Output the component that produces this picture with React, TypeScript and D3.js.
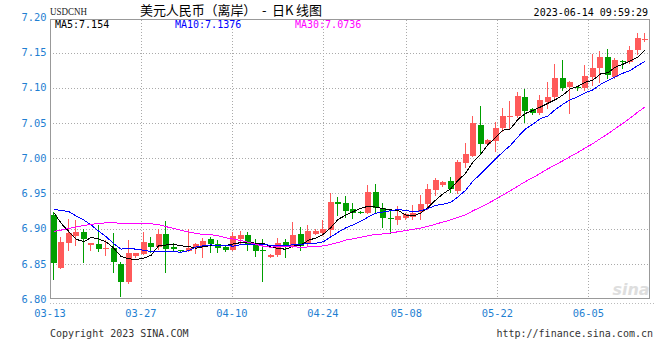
import React from "react";
import * as d3 from "d3";

// ---- data ----
const dates = [
  "03-13","03-14","03-15","03-16","03-17","03-18","03-20","03-21","03-22","03-23",
  "03-24","03-25","03-27","03-28","03-29","03-30","03-31","04-01","04-03","04-04",
  "04-05","04-06","04-07","04-08","04-10","04-11","04-12","04-13","04-14","04-15",
  "04-17","04-18","04-19","04-20","04-21","04-22","04-24","04-25","04-26","04-27",
  "04-28","04-29","05-02","05-03","05-04","05-05","05-06","05-08","05-09","05-10",
  "05-11","05-12","05-13","05-15","05-16","05-17","05-18","05-19","05-20","05-22",
  "05-23","05-24","05-25","05-26","05-27","05-29","05-30","05-31","06-01","06-02",
  "06-03","06-05","06-06","06-07","06-08","06-09","06-10","06-12","06-13","06-14",
];

const opens = [
  6.919, 6.8445, 6.880, 6.890, 6.8956, 6.877, 6.878, 6.872, 6.872, 6.850,
  6.8246, 6.861, 6.864, 6.880, 6.8743, 6.8923, 6.8734, 6.8695, 6.8686, 6.872,
  6.875, 6.8848, 6.878, 6.8734, 6.8696, 6.8852, 6.8909, 6.8767, 6.8696, 6.860,
  6.8625, 6.8814, 6.8743, 6.8923, 6.878, 6.8923, 6.894, 6.898, 6.9374, 6.9368,
  6.928, 6.9235, 6.9226, 6.9524, 6.9288, 6.9146, 6.9122, 6.9146, 6.916, 6.9236,
  6.935, 6.9548, 6.962, 6.9676, 6.9527, 6.9936, 7.003, 7.047, 7.0195, 7.0244,
  7.043, 7.059, 7.0595, 7.087, 7.0703, 7.0642, 7.0798, 7.087, 7.114, 7.1011,
  7.1015, 7.099, 7.1153, 7.1274, 7.1442, 7.1153, 7.138, 7.136, 7.153, 7.1685,
];
const highs = [
  6.924, 6.8876, 6.914, 6.912, 6.8994, 6.880, 6.905, 6.884, 6.894, 6.852,
  6.884, 6.866, 6.8956, 6.8885, 6.899, 6.911, 6.879, 6.870, 6.899, 6.880,
  6.887, 6.8885, 6.8838, 6.8767, 6.8956, 6.897, 6.895, 6.8848, 6.8848, 6.864,
  6.8866, 6.8848, 6.910, 6.9018, 6.905, 6.899, 6.912, 6.951, 6.9453, 6.946,
  6.937, 6.925, 6.962, 6.9634, 6.936, 6.928, 6.932, 6.922, 6.9335, 6.9477,
  6.9638, 6.9714, 6.967, 6.9737, 6.998, 7.0216, 7.060, 7.074, 7.027, 7.052,
  7.0713, 7.0808, 7.0945, 7.0983, 7.071, 7.090, 7.1078, 7.1338, 7.140, 7.109,
  7.103, 7.1324, 7.148, 7.1523, 7.1547, 7.1423, 7.140, 7.1594, 7.178, 7.178,
];
const lows = [
  6.829, 6.844, 6.870, 6.8767, 6.853, 6.870, 6.8686, 6.8625, 6.839, 6.804,
  6.8227, 6.860, 6.864, 6.867, 6.8706, 6.839, 6.8686, 6.868, 6.868, 6.866,
  6.859, 6.867, 6.867, 6.868, 6.869, 6.879, 6.8696, 6.8615, 6.826, 6.860,
  6.861, 6.860, 6.874, 6.8696, 6.877, 6.892, 6.891, 6.891, 6.919, 6.917,
  6.9146, 6.922, 6.922, 6.9226, 6.9027, 6.894, 6.9065, 6.913, 6.9132, 6.9136,
  6.9274, 6.9477, 6.961, 6.9516, 6.9506, 6.988, 7.003, 7.008, 7.019, 7.0107,
  7.0382, 7.0425, 7.058, 7.0514, 7.062, 7.063, 7.0713, 7.083, 7.0973, 7.0638,
  7.0973, 7.097, 7.1044, 7.1087, 7.1135, 7.114, 7.128, 7.135, 7.148, 7.1658,
];
const closes = [
  6.8507, 6.881, 6.894, 6.8956, 6.8857, 6.880, 6.871, 6.8725, 6.853, 6.8246,
  6.865, 6.865, 6.8814, 6.8743, 6.8923, 6.8706, 6.8706, 6.869, 6.872, 6.878,
  6.882, 6.878, 6.8724, 6.8696, 6.8895, 6.8909, 6.878, 6.8686, 6.869, 6.8625,
  6.880, 6.8734, 6.891, 6.8753, 6.8966, 6.897, 6.8994, 6.938, 6.935, 6.9254,
  6.9226, 6.923, 6.9524, 6.9288, 6.9146, 6.9142, 6.9183, 6.9207, 6.9217, 6.935,
  6.9558, 6.969, 6.9662, 6.956, 6.995, 7.006, 7.050, 7.020, 7.026, 7.0425,
  7.0595, 7.0597, 7.088, 7.0675, 7.0642, 7.083, 7.087, 7.114, 7.0997, 7.1082,
  7.1005, 7.1168, 7.128, 7.1438, 7.118, 7.1395, 7.1365, 7.1537, 7.170, 7.169,
];
// closes before the visible window (estimated from the starting MA lines)
const priorCloses = [
  6.822, 6.827, 6.829, 6.823, 6.831, 6.836, 6.842, 6.848, 6.855, 6.862,
  6.870, 6.876, 6.897, 6.921, 6.962, 6.950, 6.946, 6.942, 6.938, 6.931,
  6.891, 6.913, 6.957, 6.943, 6.951, 6.959, 6.951, 6.951, 6.903,
];

const yTicks = [6.80, 6.85, 6.90, 6.95, 7.00, 7.05, 7.10, 7.15, 7.20];
const xTickDates = ["03-13", "03-27", "04-10", "04-24", "05-08", "05-22", "06-05"];
const maPeriods = [5, 10, 30];
const maLabels = ["MA5:7.154", "MA10:7.1376", "MA30:7.0736"];
const maColors = ["#000000", "#0000ff", "#ff00ff"];
const titleText = "美元人民币（离岸）  -  日K 线图";
const symbolText = "USDCNH";
const timeText = "2023-06-14 09:59:29";

const UP = "#ff5a5a";
const DOWN = "#009f00";
const AXIS_BLUE = "#1f7fd2";
const MONO = "'DejaVu Sans Mono', monospace";

export default function App() {
  const L = 50, R = 649, T = 19.5, B = 298.5;
  const x = d3.scaleBand<string>().domain(dates).range([L, R]).paddingInner(0.2).paddingOuter(0.1);
  const xp = d3.scalePoint<string>().domain(dates).range([L, R]);
  const y = d3.scaleLinear().domain([6.8, 7.2]).range([299, 17.3]);
  const cx = (i: number) => (x(dates[i]) as number) + x.bandwidth() / 2;

  const full = [...priorCloses, ...closes];
  const off = priorCloses.length;
  const ma = (n: number) =>
    closes.map((_, i) => d3.mean(full.slice(off + i - n + 1, off + i + 1)) as number);
  const line = d3.line<number>().x((_, i) => cx(i)).y((v) => y(v));

  return (
    <svg width={660} height={360} style={{ position: "absolute", left: 0, top: 0, background: "#fff" }}>
      <rect x={0} y={0} width={660} height={360} fill="#fff" />
      {/* watermark */}
      <text x={631} y={295} textAnchor="middle" fontFamily="'DejaVu Sans', sans-serif" fontStyle="italic"
        fontWeight="bold" fontSize={16} fill="#dedede">sina</text>
      {/* horizontal grid */}
      {yTicks.filter((v) => v > 6.81 && v < 7.19).map((v) => (
        <line key={"h" + v} x1={L} x2={R} y1={Math.round(y(v)) + 0.5} y2={Math.round(y(v)) + 0.5}
          stroke="#aaa" strokeDasharray="1 2" shapeRendering="crispEdges" />
      ))}
      {/* vertical grid */}
      {xTickDates.slice(1).map((d) => (
        <line key={"v" + d} x1={Math.round(xp(d) as number) + 0.5} x2={Math.round(xp(d) as number) + 0.5}
          y1={T} y2={B} stroke="#aaa" strokeDasharray="1 2" shapeRendering="crispEdges" />
      ))}
      {/* dotted line below axis */}
      <line x1={L} x2={655} y1={303.5} y2={303.5} stroke="#bbb" strokeDasharray="1 2" shapeRendering="crispEdges" />
      {/* frame */}
      <rect x={L + 0.5} y={T} width={R - L} height={B - T} fill="none" stroke="#999" shapeRendering="crispEdges" />

      {/* candles */}
      {closes.map((c, i) => {
        const o = opens[i];
        const up = c >= o;
        const col = up ? UP : DOWN;
        const bx = Math.round(cx(i) - 3);
        const top = Math.round(y(Math.max(o, c)));
        const bot = Math.round(y(Math.min(o, c)));
        const wx = bx + 2.5;
        return (
          <g key={"c" + i} shapeRendering="crispEdges">
            <line x1={wx} x2={wx} y1={Math.round(y(highs[i]))} y2={Math.round(y(lows[i])) + 1} stroke={col} />
            <rect x={bx} y={top} width={6} height={Math.max(1, bot - top)} fill={col} />
          </g>
        );
      })}

      {/* moving averages */}
      {maPeriods.map((n, k) => (
        <path key={"ma" + n} d={line(ma(n)) as string} fill="none" stroke={maColors[k]} strokeWidth={1}
          shapeRendering="crispEdges" />
      ))}

      {/* y labels */}
      {yTicks.map((v) => (
        <text key={"yl" + v} x={46.5} y={y(v)} dy="0.36em" textAnchor="end" fontFamily={MONO}
          fontSize={10.4} fill={AXIS_BLUE}>{v.toFixed(2)}</text>
      ))}
      {/* x labels */}
      {xTickDates.map((d) => (
        <text key={"xl" + d} x={xp(d) as number} y={317} textAnchor="middle" fontFamily={MONO}
          fontSize={10.4} fill={AXIS_BLUE}>{d}</text>
      ))}

      {/* header */}
      <text x={50} y={15} fontFamily="'Liberation Serif', serif" fontSize={11} fill="#222"
        textLength={37} lengthAdjust="spacingAndGlyphs">{symbolText}</text>
      <text x={140} y={14.5} fontFamily="'Noto Sans CJK SC', sans-serif" fontSize={13} fill="#000"
        textLength={182} lengthAdjust="spacing" style={{ whiteSpace: "pre" }}>{titleText}</text>
      <text x={648} y={16} textAnchor="end" fontFamily={MONO} fontSize={10} fill="#000">{timeText}</text>
      {maLabels.map((t, k) => (
        <text key={"mal" + k} x={55 + k * 120} y={27.5} fontFamily={MONO} fontSize={10} fill={maColors[k]}>{t}</text>
      ))}

      {/* footer */}
      <text x={50} y={337} fontFamily={MONO} fontSize={10} fill="#333">Copyright 2023 SINA.COM</text>
      <text x={653} y={337} textAnchor="end" fontFamily={MONO} fontSize={10} fill="#333">http://finance.sina.com.cn</text>
    </svg>
  );
}
